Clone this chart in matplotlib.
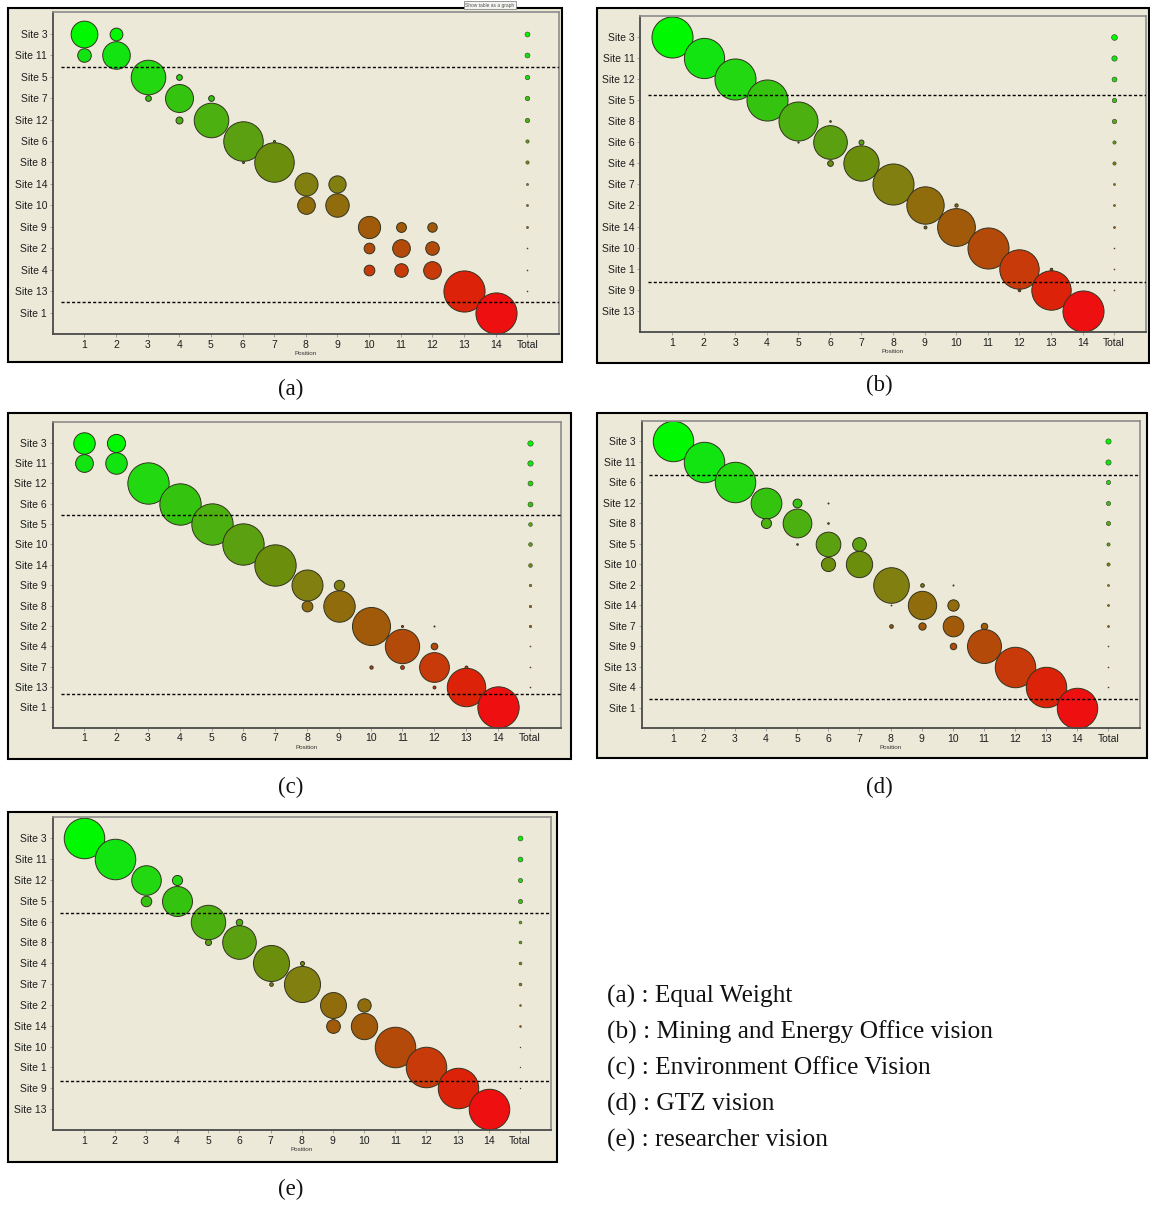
import matplotlib
matplotlib.use("Agg")
import matplotlib.pyplot as plt
from matplotlib.patches import Rectangle

# ---------------- data ----------------
position_labels = [str(i) for i in range(1, 15)] + ["Total"]

# (a) Equal Weight
a_sites = ["Site 3", "Site 11", "Site 5", "Site 7", "Site 12", "Site 6", "Site 8",
           "Site 14", "Site 10", "Site 9", "Site 2", "Site 4", "Site 13", "Site 1"]
a_rows = [1, 1, 2, 2, 3, 3, 4, 4, 4, 5, 5, 6, 6, 7, 7, 8, 8, 9, 9, 10, 10, 10, 11, 11, 11, 12, 12, 12, 13, 14]
a_pos = [1, 2, 1, 2, 3, 4, 3, 4, 5, 4, 5, 6, 7, 6, 7, 8, 9, 8, 9, 10, 11, 12, 10, 11, 12, 10, 11, 12, 13, 14]
a_vals = [65, 31, 33, 67, 84, 14, 14, 68, 14, 17, 84, 96, 5, 5, 96, 56, 42, 43, 57, 54, 24, 23, 26, 43, 33, 26, 33, 43, 100, 100]
a_total = [12, 12, 11, 11, 11, 8, 8, 5, 5, 5, 2.5, 2.5, 2.5, 0]
a_cuts = [2.56, 13.53]

# (b) Mining and Energy Office vision
b_sites = ["Site 3", "Site 11", "Site 12", "Site 5", "Site 8", "Site 6", "Site 4",
           "Site 7", "Site 2", "Site 14", "Site 10", "Site 1", "Site 9", "Site 13"]
b_rows = [1, 2, 3, 4, 5, 5, 6, 6, 6, 7, 7, 8, 9, 9, 10, 10, 11, 12, 12, 13, 13, 14]
b_pos = [1, 2, 3, 4, 5, 6, 5, 6, 7, 6, 7, 8, 9, 10, 9, 10, 11, 12, 13, 12, 13, 14]
b_vals = [100, 98, 100, 100, 95, 4, 3, 82, 12, 14, 86, 100, 91, 8, 7, 92, 100, 96, 6, 6, 96, 100]
b_total = [14, 13, 12, 11, 11, 8, 8, 5, 5, 5, 2.5, 2.5, 2.5, 0]
b_cuts = [3.74, 12.61]

# (c) Environment Office Vision
c_sites = ["Site 3", "Site 11", "Site 12", "Site 6", "Site 5", "Site 10", "Site 14",
           "Site 9", "Site 8", "Site 2", "Site 4", "Site 7", "Site 13", "Site 1"]
c_rows = [1, 1, 2, 2, 3, 4, 5, 6, 7, 8, 8, 9, 9, 10, 10, 10, 11, 11, 12, 12, 12, 12, 13, 13, 14]
c_pos = [1, 2, 1, 2, 3, 4, 5, 6, 7, 8, 9, 8, 9, 10, 11, 12, 11, 12, 10, 11, 12, 13, 12, 13, 14]
c_vals = [52, 44, 43, 52, 100, 100, 100, 100, 100, 75, 25, 26, 76, 92, 5, 2.5, 83, 16, 8, 9, 72, 7, 7, 93, 100]
c_total = [13, 13, 12, 12, 9, 9, 9, 6, 6, 6, 2.5, 2.5, 2.5, 0]
c_cuts = [4.56, 13.35]

# (d) GTZ vision
d_sites = ["Site 3", "Site 11", "Site 6", "Site 12", "Site 8", "Site 5", "Site 10",
           "Site 2", "Site 14", "Site 7", "Site 9", "Site 13", "Site 4", "Site 1"]
d_rows = [1, 2, 3, 4, 4, 4, 5, 5, 5, 6, 6, 6, 7, 7, 8, 8, 8, 9, 9, 9, 10, 10, 10, 10, 11, 11, 12, 13, 14]
d_pos = [1, 2, 3, 4, 5, 6, 4, 5, 6, 5, 6, 7, 6, 7, 8, 9, 10, 8, 9, 10, 8, 9, 10, 11, 10, 11, 12, 13, 14]
d_vals = [100, 100, 100, 76, 22, 2.5, 25, 71, 4, 4, 61, 34, 35, 65, 88, 9, 2.5, 2, 70, 28, 9, 18, 51, 16, 16, 84, 100, 100, 100]
d_total = [13, 13, 10.5, 10.5, 10.5, 8, 8, 5, 5, 5, 2.5, 2.5, 2.5, 0]
d_cuts = [2.64, 13.56]

# (e) researcher vision
e_sites = ["Site 3", "Site 11", "Site 12", "Site 5", "Site 6", "Site 8", "Site 4",
           "Site 7", "Site 2", "Site 14", "Site 10", "Site 1", "Site 9", "Site 13"]
e_rows = [1, 2, 3, 3, 4, 4, 5, 5, 6, 6, 7, 7, 8, 8, 9, 9, 10, 10, 11, 12, 13, 14]
e_pos = [1, 2, 3, 4, 3, 4, 5, 6, 5, 6, 7, 8, 7, 8, 9, 10, 9, 10, 11, 12, 13, 14]
e_vals = [100, 100, 73, 25, 26, 74, 85, 16, 15, 83, 89, 10, 9, 89, 64, 33, 34, 65, 100, 100, 100, 100]
e_total = [12, 12, 10.5, 10.5, 7, 7, 7, 7, 4.5, 4.5, 2, 2, 2, 0]
e_cuts = [4.6, 12.63]

panel_tags = ["(a)", "(b)", "(c)", "(d)", "(e)"]
legend_lines = ["(a) : Equal Weight",
                "(b) : Mining and Energy Office vision",
                "(c) : Environment Office Vision",
                "(d) : GTZ vision",
                "(e) : researcher vision"]

# ---------------- styles / layout ----------------
row_colors = ["#00f800", "#12e412", "#22d810", "#34c410", "#4cb010", "#5aa010", "#6b8e0c",
              "#807f10", "#906c0c", "#a05a0a", "#b44a0a", "#c83a0a", "#dc2208", "#ee1010"]
BG = "#ece9d8"
W, H, DPI = 1150, 1207, 100

panels = [
    (a_sites, a_rows, a_pos, a_vals, a_total, a_cuts),
    (b_sites, b_rows, b_pos, b_vals, b_total, b_cuts),
    (c_sites, c_rows, c_pos, c_vals, c_total, c_cuts),
    (d_sites, d_rows, d_pos, d_vals, d_total, d_cuts),
    (e_sites, e_rows, e_pos, e_vals, e_total, e_cuts),
]
ax_boxes = [(52.7, 12.4, 559, 334), (640.4, 15.7, 1145.7, 332), (52.6, 422.3, 561.4, 727.7),
            (641.6, 421, 1139.5, 728.3), (52.5, 817.3, 551, 1130)]
frames = [(7.9, 7.7, 562, 362), (596.8, 7.7, 1149, 363), (7.9, 413.3, 571, 759),
          (596.8, 413.3, 1146.6, 758), (7.8, 811.7, 557, 1161.7)]
tag_pos = [(291, 389), (879, 385), (291, 787), (879, 787), (291, 1189)]

fig = plt.figure(figsize=(W / DPI, H / DPI), dpi=DPI)
fig.patch.set_facecolor("white")

SERIF = ["Liberation Serif", "DejaVu Serif"]
SANS = ["Liberation Sans", "DejaVu Sans"]

for (sites, rows, pos, vals, total, cuts), (l, t, r, b), (fl, ft, fr, fb), (tx, ty), tag in zip(
        panels, ax_boxes, frames, tag_pos, panel_tags):
    fig.add_artist(Rectangle((fl / W, 1 - fb / H), (fr - fl) / W, (fb - ft) / H,
                             transform=fig.transFigure, facecolor=BG, edgecolor="black",
                             linewidth=1.5, zorder=0))
    ax = fig.add_axes([l / W, 1 - b / H, (r - l) / W, (b - t) / H])
    ax.set_facecolor(BG)
    ax.set_xlim(0, 16)
    ax.set_ylim(15, 0)
    col_px = (r - l) / 16.0
    d100_pt = 1.30 * col_px * 72.0 / DPI

    # bubbles
    for rw, ps, v in zip(rows, pos, vals):
        ax.scatter([ps], [rw], s=(v / 100.0 * d100_pt) ** 2, color=row_colors[rw - 1],
                   edgecolors="#33331f", linewidths=0.7, zorder=2 + rw * 0.01)
    # total column
    for i, v in enumerate(total):
        if v > 0:
            ax.scatter([15], [i + 1], s=(v / 100.0 * d100_pt) ** 2, color=row_colors[i],
                       edgecolors="#3a3a2a", linewidths=0.4, zorder=3)
    # cut-off lines
    for c in cuts:
        ax.plot([0.25, 16], [c, c], color="black", linewidth=1.0,
                linestyle=(0, (2.2, 1.6)), zorder=5)

    ax.set_xticks(range(1, 16))
    ax.set_xticklabels(position_labels, fontsize=7.5, family=SANS, color="#1e1e1e")
    ax.set_yticks(range(1, 15))
    ax.set_yticklabels(sites, fontsize=7.5, family=SANS, color="#1e1e1e")
    ax.tick_params(axis="both", direction="out", length=2, width=0.7, color="#a0a0a0", pad=2)
    ax.set_xlabel("Position", fontsize=4.5, family=SANS, color="#333333", labelpad=1)
    for side in ("left", "bottom"):
        ax.spines[side].set_color("#4a4a4a")
        ax.spines[side].set_linewidth(1.3)
    for side in ("top", "right"):
        ax.spines[side].set_color("#8c8c8c")
        ax.spines[side].set_linewidth(1.2)

    fig.text(tx / W, 1 - ty / H, tag, ha="center", va="center", fontsize=16.5,
             family=SERIF, color="#111111")

# tooltip remnant on panel (a)
fig.text(490 / W, 1 - 5 / H, "Show table as a graph", ha="center", va="center",
         fontsize=3.5, family=SANS, color="#555555",
         bbox=dict(boxstyle="square,pad=0.3", facecolor="#f4f4f0", edgecolor="#888888",
                   linewidth=0.6))

# legend text
for i, line in enumerate(legend_lines):
    fig.text(607 / W, 1 - (996 + 36 * i) / H, line, ha="left", va="center",
             fontsize=18.3, family=SERIF, color="#111111")

fig.savefig("out.png", dpi=DPI, facecolor="white")
